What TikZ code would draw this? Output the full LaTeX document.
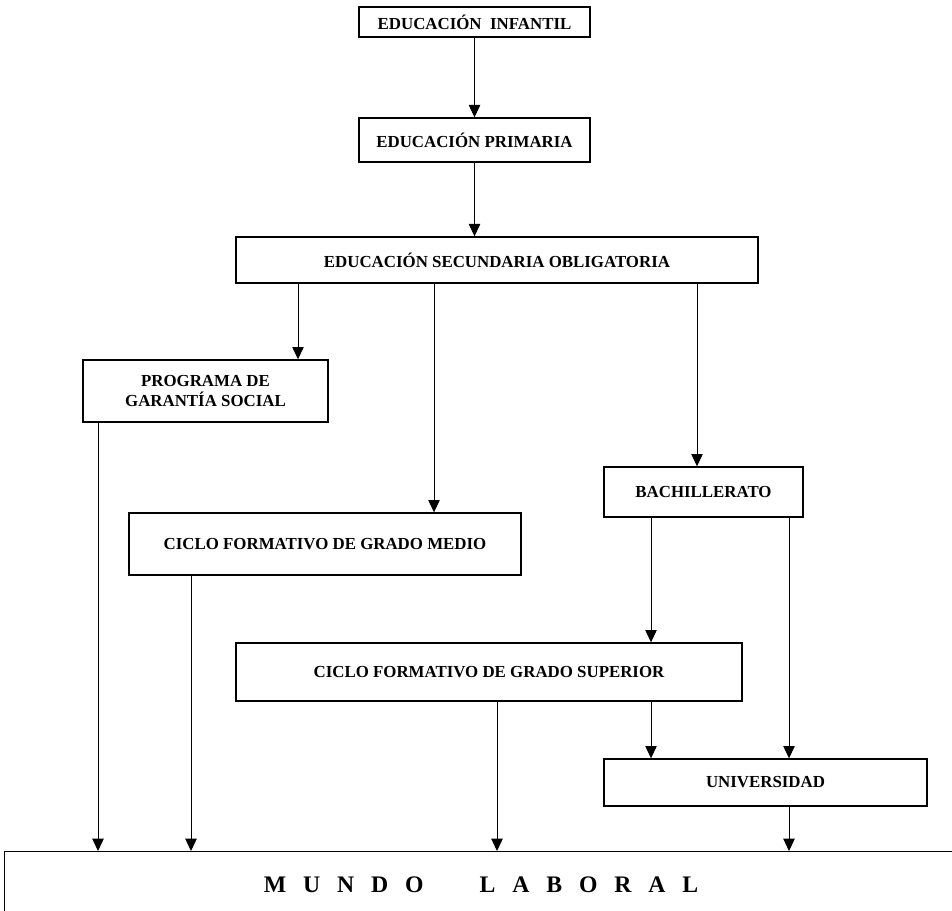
\documentclass[tikz,border=0pt]{standalone}
\usepackage{fontspec}
\setmainfont{Liberation Serif}
\usetikzlibrary{arrows.meta}
\tikzset{
  caja/.style={draw, line width=0.8pt, inner sep=0pt, align=center,
    font=\bfseries\fontsize{9.6}{11}\selectfont},
  flecha/.style={-{Triangle[length=7pt,width=6.5pt]}, line width=0.5pt}
}
\begin{document}
\begin{tikzpicture}[x=0.02cm,y=-0.02cm]
        \useasboundingbox (0,0) rectangle (952,911);
        \clip (0,0) rectangle (952,911);

        \node[caja, minimum width=4.62cm, minimum height=0.6cm] (inf) at (474.5,22) {EDUCACIÓN\ \ INFANTIL};
        \node[caja, minimum width=4.62cm, minimum height=0.88cm] (pri) at (474.5,140) {EDUCACIÓN PRIMARIA};
        \node[caja, minimum width=10.44cm, minimum height=0.92cm] (eso) at (497,260) {EDUCACIÓN SECUNDARIA OBLIGATORIA};
        \node[caja, minimum width=4.9cm, minimum height=1.24cm] (pgs) at (205.5,391) {PROGRAMA DE\\GARANTÍA SOCIAL};
        \node[caja, minimum width=7.84cm, minimum height=1.24cm] (cfgm) at (325,544) {CICLO FORMATIVO DE GRADO MEDIO};
        \node[caja, minimum width=3.98cm, minimum height=1.0cm] (bach) at (703.5,492) {BACHILLERATO};
        \node[caja, minimum width=10.12cm, minimum height=1.16cm] (cfgs) at (489,672) {CICLO FORMATIVO DE GRADO SUPERIOR};
        \node[caja, minimum width=6.46cm, minimum height=0.94cm] (univ) at (765.5,782.5) {UNIVERSIDAD};
        \node[caja, anchor=north west, minimum width=19.2cm, minimum height=1.6cm] (mundo) at (4,851) {};
        \node[font=\bfseries\fontsize{13.5}{15}\selectfont] (lab) at (481,885)
          {M\hspace{9.6pt}U\hspace{9.6pt}N\hspace{9.6pt}D\hspace{9.6pt}O\hspace{32pt}L\hspace{9.6pt}A\hspace{9.6pt}B\hspace{9.6pt}O\hspace{9.6pt}R\hspace{9.6pt}A\hspace{9.6pt}L};

        \draw[flecha] (inf) -- (pri);
        \draw[flecha] (pri.south) -- (pri.south |- eso.north);
        \draw[flecha] (298,0 |- eso.south) -- (298,0 |- pgs.north);
        \draw[flecha] (434,0 |- eso.south) -- (434,0 |- cfgm.north);
        \draw[flecha] (697,0 |- eso.south) -- (697,0 |- bach.north);
        \draw[flecha] (651,0 |- bach.south) -- (651,0 |- cfgs.north);
        \draw[flecha] (789,0 |- bach.south) -- (789,0 |- univ.north);
        \draw[flecha] (651,0 |- cfgs.south) -- (651,0 |- univ.north);
        \draw[flecha] (98,0 |- pgs.south) -- (98,0 |- mundo.north);
        \draw[flecha] (191,0 |- cfgm.south) -- (191,0 |- mundo.north);
        \draw[flecha] (497,0 |- cfgs.south) -- (497,0 |- mundo.north);
        \draw[flecha] (789,0 |- univ.south) -- (789,0 |- mundo.north);
\end{tikzpicture}
\end{document}
